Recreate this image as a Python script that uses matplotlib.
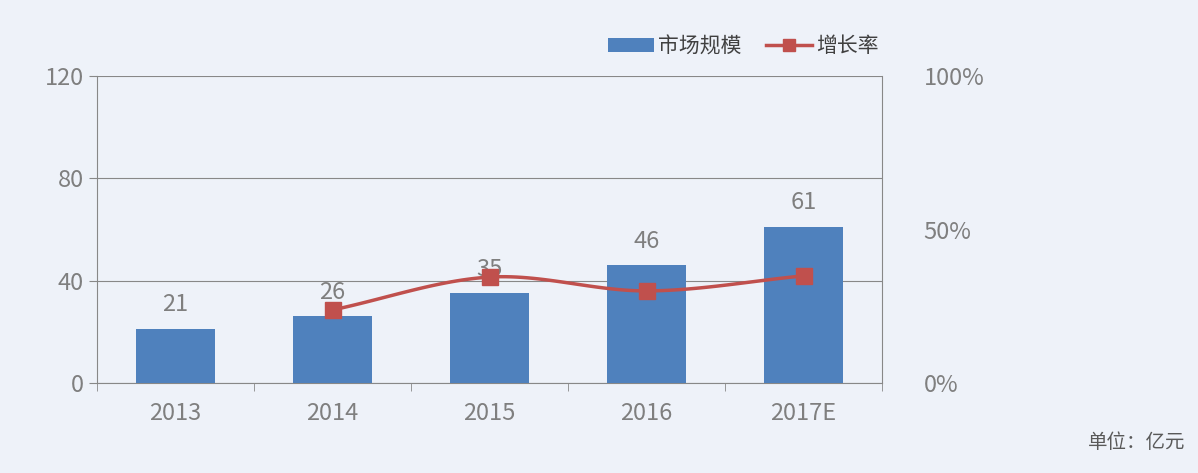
import numpy as np
import matplotlib.pyplot as plt

plt.rcParams['font.family'] = ['Noto Sans CJK SC', 'DejaVu Sans']

years = ['2013', '2014', '2015', '2016', '2017E']
market = [21, 26, 35, 46, 61]
growth_years = [1, 2, 3, 4]
growth = [23.8, 34.5, 30.0, 34.9]

grey = '#7f7f7f'
bg = '#eef2f9'

fig = plt.figure(figsize=(11.98, 4.73), dpi=100, facecolor=bg)
ax = fig.add_axes([97/1198, 1-383/473, 785/1198, 307/473], facecolor=bg)
x = np.arange(len(years))
ax.bar(x, market, width=0.5, color='#4f81bd', label='市场规模', zorder=3)
for xi, v in zip(x, market):
    ax.text(xi, v + 5, str(v), ha='center', va='bottom', fontsize=17, color=grey)
ax.set_ylim(0, 120)
ax.set_xlim(-0.5, 4.5)
ax.set_yticks([0, 40, 80, 120])
ax.grid(axis='y', color='#888888', lw=0.8, zorder=0)
ax.set_xticks(x)
ax.set_xticklabels(years)
ax.set_xticks(np.arange(-0.5, 5, 1), minor=True)
ax.tick_params(axis='x', which='minor', length=6, color='#888888')
ax.tick_params(axis='x', which='major', length=0, pad=14)
ax.tick_params(axis='both', labelsize=17, labelcolor=grey)
ax.tick_params(axis='y', length=6, color='#888888')
for s in ['top', 'right']:
    ax.spines[s].set_visible(False)
for s in ['left', 'bottom']:
    ax.spines[s].set_color('#888888')

ax2 = ax.twinx()
ax2.set_ylim(0, 100)
ax2.set_yticks([0, 50, 100])
ax2.set_yticklabels(['0%', '50%', '100%'])
ax2.tick_params(axis='y', labelsize=17, labelcolor=grey, length=0, pad=30)
for s in ['top', 'left', 'bottom']:
    ax2.spines[s].set_visible(False)
ax2.spines['right'].set_color('#888888')

# smooth curve through points (Catmull-Rom)
px = np.array(growth_years, float)
py = np.array(growth, float)
P = np.column_stack([px, py])
P = np.vstack([P[0] - (P[1] - P[0]), P, P[-1] + (P[-1] - P[-2])])
sx, sy = [], []
t = np.linspace(0, 1, 30)
for i in range(1, len(P) - 2):
    p0, p1, p2, p3 = P[i-1], P[i], P[i+1], P[i+2]
    for tt in t:
        c = 0.5 * ((2*p1) + (-p0 + p2)*tt + (2*p0 - 5*p1 + 4*p2 - p3)*tt**2 + (-p0 + 3*p1 - 3*p2 + p3)*tt**3)
        sx.append(c[0]); sy.append(c[1])
ax2.plot(sx, sy, color='#c0504d', lw=2.5, zorder=4)
ax2.plot(px, py, 's', color='#c0504d', ms=11, zorder=5)
ax2.plot([], [], '-s', color='#c0504d', lw=2.5, ms=9, label='增长率')

h1, l1 = ax.get_legend_handles_labels()
h2, l2 = ax2.get_legend_handles_labels()
ax.legend(h1 + h2, l1 + l2, loc='lower right', bbox_to_anchor=(1.02, 1.0), ncol=2,
          frameon=False, fontsize=15, labelcolor='#404040', handlelength=2.2, columnspacing=1.2,
          handletextpad=0.2)

fig.text(1185/1198, 1-442/473, '单位：亿元', ha='right', va='center', fontsize=14, color='#595959')
fig.savefig('out.png', dpi=100, facecolor=bg)
